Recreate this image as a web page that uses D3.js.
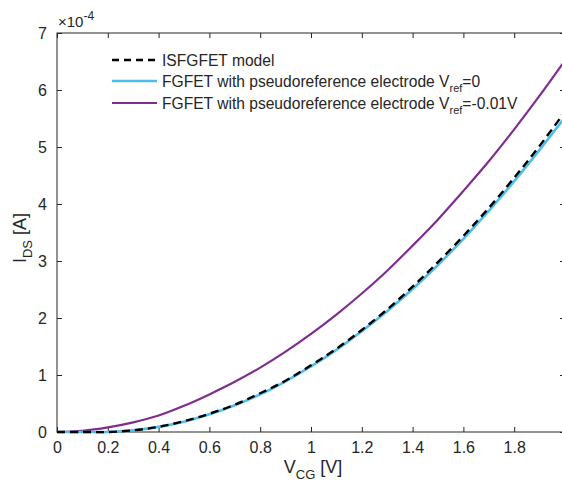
<!DOCTYPE html>
<html>
<head>
<meta charset="utf-8">
<script src="https://cdn.jsdelivr.net/npm/d3@7"></script>
<style>
  body { margin: 0; background: #fff; }
  svg text { font-family: "Liberation Sans", Arial, sans-serif; fill: #262626; }
</style>
</head>
<body>
<div id="chart"></div>
<script>
// gate voltage V_CG [V]
var vcg = [0, 0.1, 0.2, 0.3, 0.4, 0.5, 0.6, 0.7, 0.8, 0.9, 1.0,
           1.1, 1.2, 1.3, 1.4, 1.5, 1.6, 1.7, 1.8, 1.9, 2.0];

// I_DS in units of 1e-4 A
var isfgfetModel = [0, 0, 0, 0.03, 0.09, 0.19, 0.32, 0.48, 0.68, 0.90, 1.17,
                    1.46, 1.79, 2.15, 2.55, 2.98, 3.44, 3.93, 4.46, 5.02, 5.62];
var fgfetVref0 = [0, 0, 0, 0.03, 0.09, 0.18, 0.31, 0.47, 0.66, 0.89, 1.15,
                  1.44, 1.77, 2.12, 2.51, 2.93, 3.39, 3.88, 4.40, 4.95, 5.52];
var fgfetVrefNeg = [0, 0.02, 0.08, 0.17, 0.29, 0.46, 0.66, 0.88, 1.13, 1.41, 1.72,
                    2.06, 2.43, 2.83, 3.27, 3.73, 4.23, 4.75, 5.31, 5.90, 6.52];

var xTicks = [0, 0.2, 0.4, 0.6, 0.8, 1, 1.2, 1.4, 1.6, 1.8, 2];
var xTickLabels = ["0", "0.2", "0.4", "0.6", "0.8", "1", "1.2", "1.4", "1.6", "1.8", ""]; // "2" falls off the page
var yTicks = [0, 1, 2, 3, 4, 5, 6, 7];
var yTickLabels = ["0", "1", "2", "3", "4", "5", "6", "7"];

var W = 562, H = 482;
// plot box (named so they don't clash with window.top etc.)
var boxL = 57, boxR = 565, boxT = 33, boxB = 432;

var svg = d3.select("#chart").append("svg")
    .attr("width", W)
    .attr("height", H);

var x = d3.scaleLinear().domain([0, 2]).range([boxL, boxR]);
var y = d3.scaleLinear().domain([0, 7]).range([boxB, boxT]);

var axisColor = "#262626";
var labelColor = "#404040";

// box
svg.append("rect")
    .attr("x", boxL).attr("y", boxT)
    .attr("width", boxR - boxL).attr("height", boxB - boxT)
    .attr("fill", "none").attr("stroke", axisColor).attr("stroke-width", 1);

// axes, ticks pointing inwards
svg.append("g")
    .attr("transform", "translate(0," + boxB + ")")
    .call(d3.axisBottom(x).tickValues(xTicks).tickSizeInner(-5).tickSizeOuter(0).tickPadding(10)
        .tickFormat(function (d, i) { return xTickLabels[i]; }));
svg.append("g")
    .attr("transform", "translate(0," + boxT + ")")
    .call(d3.axisTop(x).tickValues(xTicks).tickSizeInner(-5).tickSizeOuter(0).tickFormat(""));
svg.append("g")
    .attr("transform", "translate(" + boxL + ",0)")
    .call(d3.axisLeft(y).tickValues(yTicks).tickSizeInner(-5).tickSizeOuter(0).tickPadding(10)
        .tickFormat(function (d, i) { return yTickLabels[i]; }));
svg.append("g")
    .attr("transform", "translate(" + boxR + ",0)")
    .call(d3.axisRight(y).tickValues(yTicks).tickSizeInner(-5).tickSizeOuter(0).tickFormat(""));

svg.selectAll(".domain").remove();
svg.selectAll(".tick line").attr("stroke", axisColor);
svg.selectAll(".tick text").attr("font-size", "16px").attr("fill", labelColor)
    .attr("font-family", "Liberation Sans, Arial, sans-serif");

// exponent label
var expo = svg.append("text").attr("x", 58).attr("y", 27).attr("font-size", "15px").attr("fill", labelColor);
expo.append("tspan").text("\u00d710");
expo.append("tspan").attr("dy", -7).attr("font-size", "12px").text("-4");

// curves
var line = d3.line()
    .x(function (d) { return x(d[0]); })
    .y(function (d) { return y(d[1]); })
    .curve(d3.curveCatmullRom);

svg.append("clipPath").attr("id", "plotclip")
    .append("rect").attr("x", boxL).attr("y", boxT)
    .attr("width", boxR - boxL).attr("height", boxB - boxT + 2);

var plot = svg.append("g").attr("clip-path", "url(#plotclip)");

var series = [
    { vals: fgfetVrefNeg, color: "#7E2F8E", width: 2.2, dash: null },
    { vals: fgfetVref0, color: "#4DBEEE", width: 2.6, dash: null },
    { vals: isfgfetModel, color: "#000000", width: 2.4, dash: "8,5" }
];

series.forEach(function (s) {
    plot.append("path")
        .datum(vcg.map(function (v, i) { return [v, s.vals[i]]; }))
        .attr("fill", "none")
        .attr("stroke", s.color)
        .attr("stroke-width", s.width)
        .attr("stroke-dasharray", s.dash)
        .attr("d", line);
});

// legend
var legend = svg.append("g");
var legendRows = [
    { color: "#000000", width: 2.6, dash: "7,5", y: 60, main: "ISFGFET model", sub: null, tail: null },
    { color: "#4DBEEE", width: 2.6, dash: null, y: 81, main: "FGFET with pseudoreference electrode V", sub: "ref", tail: "=0" },
    { color: "#7E2F8E", width: 2.2, dash: null, y: 103, main: "FGFET with pseudoreference electrode V", sub: "ref", tail: "=-0.01V" }
];
legendRows.forEach(function (r) {
    legend.append("line")
        .attr("x1", 112).attr("x2", 157)
        .attr("y1", r.y).attr("y2", r.y)
        .attr("stroke", r.color).attr("stroke-width", r.width)
        .attr("stroke-dasharray", r.dash);
    var t = legend.append("text").attr("x", 162).attr("y", r.y + 6)
        .attr("font-size", "15.6px").attr("fill", "#262626");
    t.append("tspan").text(r.main);
    if (r.sub) {
        t.append("tspan").attr("dy", 5).attr("font-size", "11px").text(r.sub);
        t.append("tspan").attr("dy", -5).text(r.tail);
    }
});

// axis labels
var xl = svg.append("text").attr("x", 313).attr("y", 473)
    .attr("text-anchor", "middle").attr("font-size", "18px").attr("fill", labelColor);
xl.append("tspan").text("V");
xl.append("tspan").attr("dy", 6).attr("font-size", "13px").text("CG");
xl.append("tspan").attr("dy", -6).text(" [V]");

var yl = svg.append("text")
    .attr("transform", "translate(26,238) rotate(-90)")
    .attr("text-anchor", "middle").attr("font-size", "18px").attr("fill", labelColor);
yl.append("tspan").text("I");
yl.append("tspan").attr("dy", 6).attr("font-size", "13px").text("DS");
yl.append("tspan").attr("dy", -6).text(" [A]");
</script>
</body>
</html>
